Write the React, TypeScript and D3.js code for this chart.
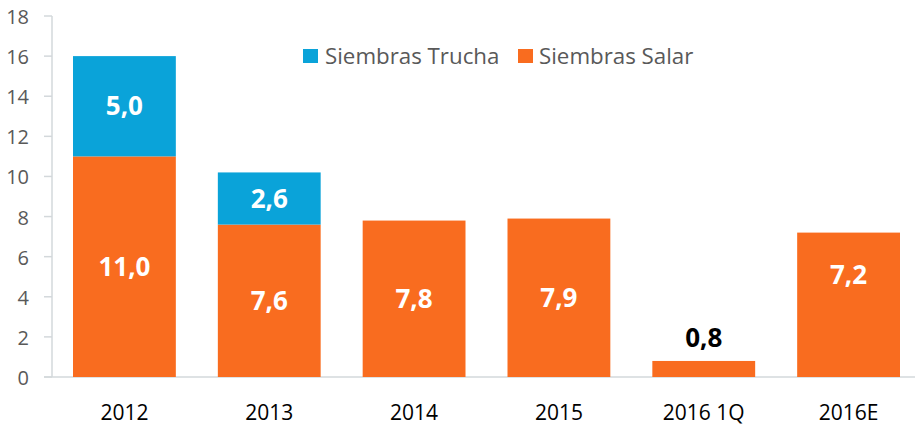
import React from "react";
import * as d3 from "d3";

const categories = ["2012", "2013", "2014", "2015", "2016 1Q", "2016E"];
const salar = [11.0, 7.6, 7.8, 7.9, 0.8, 7.2];
const trucha = [5.0, 2.6, 0, 0, 0, 0];
const yTicks = [0, 2, 4, 6, 8, 10, 12, 14, 16, 18];

const ORANGE = "#F96C1F";
const BLUE = "#0AA3D9";
const FONT = "'Open Sans', sans-serif";

const fmt = (v: number) => v.toFixed(1).replace(".", ",");

const App = () => {
  const width = 915;
  const height = 428;
  const x = d3
    .scaleBand()
    .domain(categories)
    .range([52, 921])
    .paddingInner(0.29)
    .paddingOuter(0.145);
  const y = d3.scaleLinear().domain([0, 18]).range([377, 16]);
  const bw = x.bandwidth();

  return (
    <svg
      width={width}
      height={height}
      style={{ position: "absolute", left: 0, top: 0, background: "#fff" }}
      fontFamily={FONT}
    >
      {/* axes */}
      <line x1={52} x2={52} y1={y(18)} y2={y(0)} stroke="#D3D8DB" strokeWidth={1.5} />
      <line x1={44} x2={915} y1={y(0)} y2={y(0)} stroke="#D3D8DB" strokeWidth={1.5} />
      {yTicks.map((t) => (
        <g key={t}>
          <line x1={44} x2={52} y1={y(t)} y2={y(t)} stroke="#D3D8DB" strokeWidth={1.5} />
          <text x={29} y={y(t) + 1} dy="0.35em" textAnchor="end" fontSize={20} fill="#595959">
            {t}
          </text>
        </g>
      ))}

      {/* bars */}
      {categories.map((c, i) => {
        const x0 = x(c)!;
        const cx = x0 + bw / 2;
        const s = salar[i];
        const t = trucha[i];
        const small = y(0) - y(s) < 40;
        // 2016E label sits higher in the original
        const shift = c === "2016E" ? -30 : 0;
        return (
          <g key={c}>
            <rect x={x0} y={y(s)} width={bw} height={y(0) - y(s)} fill={ORANGE} />
            {t > 0 && (
              <rect x={x0} y={y(s + t)} width={bw} height={y(s) - y(s + t)} fill={BLUE} />
            )}
            {t > 0 && (
              <text
                x={cx}
                y={(y(s) + y(s + t)) / 2}
                dy="0.35em"
                textAnchor="middle"
                fontSize={26}
                fontWeight="bold"
                fill="#fff"
              >
                {fmt(t)}
              </text>
            )}
            {small ? (
              <text
                x={cx}
                y={y(s) - 14}
                textAnchor="middle"
                fontSize={26}
                fontWeight="bold"
                fill="#000"
              >
                {fmt(s)}
              </text>
            ) : (
              <text
                x={cx}
                y={(y(0) + y(s)) / 2 + shift}
                dy="0.35em"
                textAnchor="middle"
                fontSize={26}
                fontWeight="bold"
                fill="#fff"
              >
                {fmt(s)}
              </text>
            )}
            <text x={cx} y={420} textAnchor="middle" fontSize={21} fill="#000">
              {c}
            </text>
          </g>
        );
      })}

      {/* legend */}
      <rect x={303} y={49} width={15} height={14} fill={BLUE} />
      <text x={325} y={64} fontSize={22.3} fill="#595959">
        Siembras Trucha
      </text>
      <rect x={518} y={49} width={15} height={14} fill={ORANGE} />
      <text x={539} y={64} fontSize={22.3} fill="#595959">
        Siembras Salar
      </text>
    </svg>
  );
};

export default App;
